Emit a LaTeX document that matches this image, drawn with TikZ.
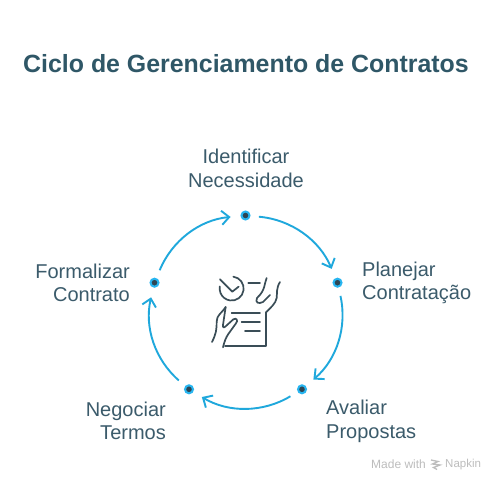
\documentclass[tikz,border=0pt]{standalone}
\usepackage{fontspec}
\setmainfont{Liberation Sans}
\usetikzlibrary{arrows.meta}
\definecolor{ttl}{HTML}{2F5767}
\definecolor{lbl}{HTML}{3B5B6B}
\definecolor{arc}{HTML}{1FA8DC}
\definecolor{ring}{HTML}{27B5F0}
\definecolor{core}{HTML}{2D4654}
\definecolor{ico}{HTML}{3A4D57}
\definecolor{wm}{HTML}{BDBDBD}
\tikzset{
 dotnode/.style={circle,fill=core,draw=ring,line width=2pt,minimum size=8pt,inner sep=0pt},
 flow/.style={draw=arc,line width=1.9pt,-{Straight Barb[length=7.5pt,width=14pt,line width=1.9pt]},bend left=31,shorten <=8.5pt,shorten >=10pt},
 lab/.style={text=lbl,font=\fontsize{20}{23.7}\selectfont,inner sep=0pt},
 iconline/.style={draw=ico,line width=1.7pt,line cap=round,line join=round},
 wmtext/.style={text=wm,font=\fontsize{12}{14}\selectfont,inner sep=0pt}
}
\begin{document}
\begin{tikzpicture}[x=1pt,y=-1pt]
\useasboundingbox (0,0) rectangle (504,492);
\fill[white] (0,0) rectangle (504,492);
\node[text=ttl,font=\bfseries\fontsize{24.9}{28}\selectfont,inner sep=0pt] (title) at (246,64) {Ciclo de Gerenciamento de Contratos};
\node[dotnode] (d1) at (245.5,215.5) {};
\node[dotnode] (d2) at (337.5,282.7) {};
\node[dotnode] (d3) at (302,389.3) {};
\node[dotnode] (d4) at (189,389.3) {};
\node[dotnode] (d5) at (154.5,282.7) {};
\draw[flow] (d1) to (d2);
\draw[flow] (d2) to (d3);
\draw[flow] (d3) to (d4);
\draw[flow] (d4) to (d5);
\draw[flow] (d5) to (d1);
\node[lab,align=center] (l1) at (246,168.3) {Identificar\\Necessidade};
\node[lab,align=left,anchor=west] (l2) at (362,283) {Planejar\\Contratação};
\node[lab,align=left,anchor=west] (l3) at (326,421.5) {Avaliar\\Propostas};
\node[lab,align=right,anchor=east] (l4) at (166,421) {Negociar\\Termos};
\node[lab,align=right,anchor=east] (l5) at (130,283) {Formalizar\\Contrato};
\begin{scope}[shift={(200,260)},x=.3333pt,y=-.3333pt]
\draw[iconline] (100,50) arc (-82:190:36);
\draw[iconline] (60,58) -- (97,95) -- (116,80);
\draw[iconline] (145,70) -- (180,70);
\draw[iconline] (200,54) .. controls (192,72) and (197,90) .. (171,114) .. controls (165,128) and (175,133) .. (189,126) -- (210,105);
\draw[iconline] (240,66) .. controls (228,85) and (232,100) .. (230,114) .. controls (228,130) and (210,145) .. (197,158);
\draw[iconline] (95,158) -- (180,158);
\draw[iconline] (125,185) -- (180,185);
\draw[iconline] (135,212) -- (180,212);
\draw[iconline] (197,158) -- (197,258) -- (75,258);
\draw[iconline] (77,141) .. controls (65,160) and (50,165) .. (50,185) .. controls (50,210) and (48,222) .. (36,246);
\draw[iconline] (77,141) -- (69,195) .. controls (68,204) and (72,204) .. (78,198) -- (100,178) .. controls (110,172) and (115,182) .. (108,190) -- (85,222) .. controls (78,232) and (73,245) .. (69,262);
\end{scope}
\node[wmtext,anchor=west] (w1) at (371,464.5) {Made with};
\node[wmtext,anchor=west,font=\fontsize{11.5}{14}\selectfont] (w2) at (445,464.5) {Napkin};
\begin{scope}[shift={(435.5,464.5)}]
\draw[wm,line width=1.3pt] (-4.5,-4.5) -- (2.5,-3) -- (-3,-.5) -- (4.5,.5) -- (-2,3) -- (1.5,5);
\end{scope}
\end{tikzpicture}
\end{document}
